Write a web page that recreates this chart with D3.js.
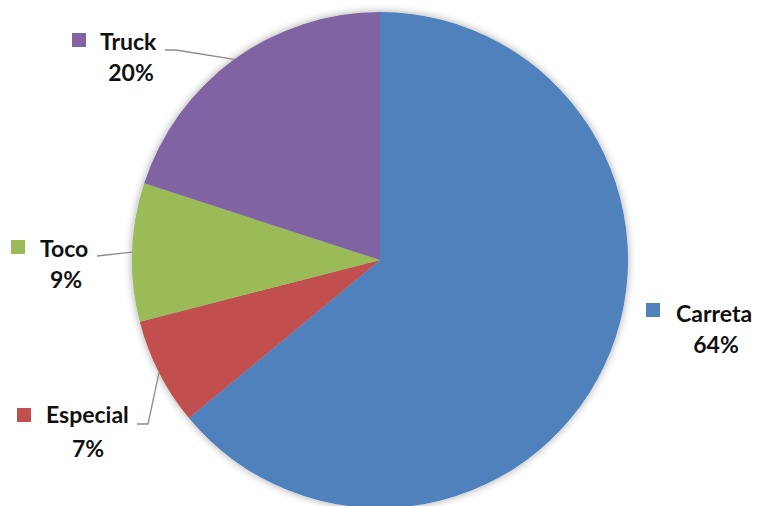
<!DOCTYPE html>
<html><head><meta charset="utf-8">
<script src="https://cdn.jsdelivr.net/npm/d3@7"></script>
<style>body{margin:0;background:#fff}svg{display:block}</style>
</head><body>
<script>
const categories = ["Carreta", "Especial", "Toco", "Truck"];
const values = [64, 7, 9, 20];
const colors = ["#4F81BD", "#C0504D", "#9BBB59", "#8064A2"];

const W = 760, H = 506, cx = 380, cy = 260, R = 248;
const svg = d3.select("body").append("svg").attr("width", W).attr("height", H);
const defs = svg.append("defs");
const f = defs.append("filter").attr("id","sh").attr("x","-20%").attr("y","-20%").attr("width","140%").attr("height","140%");
f.append("feGaussianBlur").attr("in","SourceAlpha").attr("stdDeviation",4).attr("result","b");
f.append("feOffset").attr("in","b").attr("dx",0).attr("dy",0).attr("result","o");
f.append("feComponentTransfer").attr("in","o").attr("result","t").append("feFuncA").attr("type","linear").attr("slope",0.35);
const m = f.append("feMerge"); m.append("feMergeNode").attr("in","t"); m.append("feMergeNode").attr("in","SourceGraphic");

const data = categories.map((c,i)=>({cat:c, v:values[i], color:colors[i]}));
const pie = d3.pie().value(d=>d.v).sort(null);
const arcs = pie(data);
const arc = d3.arc().innerRadius(0).outerRadius(R);
const g = svg.append("g").attr("transform",`translate(${cx},${cy})`);
g.append("g").attr("filter","url(#sh)").selectAll("path").data(arcs).enter().append("path")
  .attr("d", arc).attr("fill", d=>d.data.color);

// label layout (positions only)
const lab = {
  "Carreta": {sq:[646,303], tx:676, ty:322, px:716, py:353, leader:null},
  "Especial":{sq:[17,408], tx:46, ty:423, px:88, py:457, leader:[[137,424],[148,424]]},
  "Toco":    {sq:[11,240], tx:40, ty:257, px:66, py:288, leader:[[97,256]]},
  "Truck":   {sq:[72,33], tx:100, ty:50, px:131, py:81, leader:[[165,50],[176,50]]}
};
const fmt = d3.format(".0%");
const total = d3.sum(values);
const FONT = "Lato, 'Open Sans', sans-serif", FS = 23;
arcs.forEach(a=>{
  const L = lab[a.data.cat];
  if (L.leader){
    const mid = (a.startAngle + a.endAngle)/2;
    const ex = cx + R*Math.sin(mid), ey = cy - R*Math.cos(mid);
    const pts = L.leader.concat([[ex,ey]]);
    svg.append("path").attr("d", d3.line()(pts)).attr("fill","none")
      .attr("stroke","#8c8c8c").attr("stroke-width",1.3);
  }
  svg.append("rect").attr("x",L.sq[0]).attr("y",L.sq[1]).attr("width",14).attr("height",14).attr("fill",a.data.color);
  svg.append("text").attr("x",L.tx).attr("y",L.ty).text(a.data.cat)
    .attr("font-family",FONT).attr("font-weight","bold").attr("font-size",FS).attr("fill","#111");
  svg.append("text").attr("x",L.px).attr("y",L.py).attr("text-anchor","middle").text(fmt(a.data.v/total))
    .attr("font-family",FONT).attr("font-weight","bold").attr("font-size",FS).attr("fill","#111");
});
</script>
</body></html>
